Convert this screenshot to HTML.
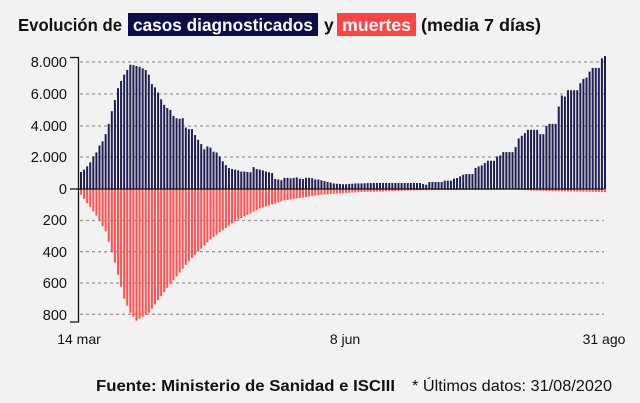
<!DOCTYPE html>
<html><head><meta charset="utf-8"><style>
body{margin:0;background:#f2f2f2;width:640px;height:403px;overflow:hidden;font-family:"Liberation Sans",sans-serif}
svg{display:block}
</style></head><body>
<svg id="s" width="640" height="403" xmlns="http://www.w3.org/2000/svg" font-family="Liberation Sans, sans-serif">
<rect width="640" height="403" fill="#f2f2f2"/>
<rect x="128" y="13" width="190" height="23" fill="#0d0d4a"/>
<rect x="337" y="13" width="79" height="23" fill="#ff4444"/>
<g font-size="17.5" font-weight="bold" fill="#111">
<text x="18" y="31" textLength="104" lengthAdjust="spacingAndGlyphs">Evolución de</text>
<text x="133" y="31" fill="#fff" textLength="180" lengthAdjust="spacingAndGlyphs">casos diagnosticados</text>
<text x="324" y="31">y</text>
<text x="342" y="31" fill="#fff" textLength="69" lengthAdjust="spacingAndGlyphs">muertes</text>
<text x="421" y="31" textLength="120" lengthAdjust="spacingAndGlyphs">(media 7 días)</text>
</g>
<g stroke="#999" stroke-width="1.3" stroke-dasharray="3,3">
<line x1="80" x2="604" y1="62" y2="62"/><line x1="80" x2="604" y1="94" y2="94"/><line x1="80" x2="604" y1="126" y2="126"/><line x1="80" x2="604" y1="157" y2="157"/>
<line x1="80" x2="604" y1="220.5" y2="220.5"/><line x1="80" x2="604" y1="251.7" y2="251.7"/><line x1="80" x2="604" y1="283" y2="283"/><line x1="80" x2="604" y1="314.3" y2="314.3"/>
</g>
<g id="bars"></g>
<line x1="70" x2="604" y1="189" y2="189" stroke="#111" stroke-width="1.3"/>
<path d="M70 57.5H78.5V322H70" fill="none" stroke="#111" stroke-width="1.3"/>
<g font-size="14.5" fill="#111" text-anchor="end">
<text x="67" y="67">8.000</text><text x="67" y="99">6.000</text><text x="67" y="131">4.000</text><text x="67" y="162">2.000</text><text x="67" y="194">0</text>
<text x="67" y="225">200</text><text x="67" y="257">400</text><text x="67" y="288">600</text><text x="67" y="320">800</text>
</g>
<g font-size="14" fill="#111" text-anchor="middle">
<text x="79" y="344">14 mar</text><text x="345" y="344">8 jun</text><text x="604" y="344">31 ago</text>
</g>
<text x="96" y="391" font-size="15.5" font-weight="bold" fill="#111" textLength="299" lengthAdjust="spacingAndGlyphs">Fuente: Ministerio de Sanidad e ISCIII</text>
<text x="412" y="391" font-size="15.5" fill="#111" textLength="200" lengthAdjust="spacingAndGlyphs">* Últimos datos: 31/08/2020</text>
</svg>
<script>
var p1=[1.07,1.22,1.43,1.68,2.05,2.3,2.74,3.0,3.46,4.1,4.9,5.6,6.35,6.8,7.2,7.5,7.83,7.8,7.75,7.7,7.6,7.5,7.2,6.6,6.4,6.07,5.65,5.3,5.1,4.98,4.6,4.46,4.42,4.46,3.87,3.77,3.77,3.4,3.1,2.83,2.5,2.68,2.6,2.35,2.3,2.05,1.74,1.5,1.32,1.26,1.22,1.17,1.1,1.1,1.07,1.05,1.38,1.26,1.22,1.17,1.1,1.05,1.0,0.63,0.6,0.55,0.7,0.7,0.67,0.7,0.73,0.65,0.63];
var p2=[0.7,0.7,0.68,0.6,0.6,0.55,0.5,0.45,0.4,0.35,0.33,0.32,0.3,0.3,0.32,0.33,0.35,0.35,0.35,0.36,0.37,0.37,0.38,0.38,0.38,0.38,0.38,0.38,0.38,0.38,0.38];
var t3=[430,430,430,430,430,430,430,430,433,435,427,427,427,427,427,423,423,423,423,417,415,410,405,403,403,403,403,385,380,377,370,363,363,363,350,347,343,337,337,337,337,322,296,288,280,270,270,270,270,270,283,283,258,252,252,252,200,190,167,170,151,151,151,151,130,117,113,95,84,84,84,84,55,48];
var N=171,n3=N-p1.length-p2.length,p3=[];
for(var i=0;i<n3;i++){var k=Math.round(i*(t3.length-1)/(n3-1));p3.push((448-t3[k])/47.75);}
var cases=p1.concat(p2,p3);
var kp=[[0,36],[5,170],[8,270],[11,470],[14,700],[16,790],[18,840],[22,790],[28,630],[35,460],[42,320],[50,205],[58,125],[66,72],[78,36],[90,20],[110,8],[140,5],[150,12],[170,20]];
function d(i){for(var j=0;j<kp.length-1;j++){if(i<=kp[j+1][0]){var a=kp[j],b=kp[j+1];return a[1]+(b[1]-a[1])*(i-a[0])/(b[0]-a[0]);}}return 20;}
var g=document.getElementById('bars'),h='',sp=524/(N-1);
for(var i=0;i<N;i++){var x=80+i*sp,c=cases[i]*1000*0.01588,dd=d(i)*0.1567;
h+='<rect x="'+x.toFixed(2)+'" y="'+(189-c).toFixed(2)+'" width="2" height="'+c.toFixed(2)+'" fill="#1e1e52"/>';
h+='<rect x="'+x.toFixed(2)+'" y="189" width="2" height="'+dd.toFixed(2)+'" fill="#ff5252"/>';}
g.innerHTML=h;
</script>
</body></html>
